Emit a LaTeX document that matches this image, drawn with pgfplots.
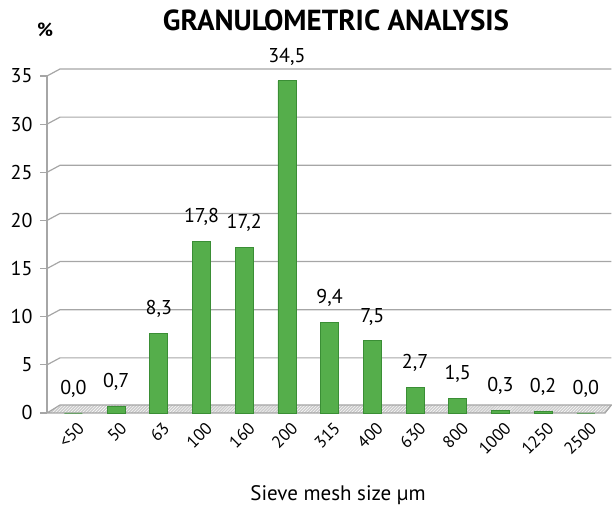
\documentclass[border=0pt]{standalone}
\usepackage{pgfplots}
\pgfplotsset{compat=1.18}
\usepackage{fontspec}
\setmainfont{PT Sans}
\usetikzlibrary{patterns}
\definecolor{barmid}{HTML}{55AE4B}
\definecolor{bardark}{HTML}{3A8E35}
\definecolor{gridgray}{HTML}{A6A6A6}
\begin{document}
\begin{tikzpicture}
\useasboundingbox (0,0) rectangle (612bp,510bp);
\begin{axis}[
  at={(47bp,97bp)}, anchor=south west,
  scale only axis,
  width=558bp, height=337bp,
  xmin=-0.62, xmax=12.45,
  ymin=0, ymax=35,
  ytick={0,5,...,35},
  xtick={0,...,12},
  xticklabels={<50,50,63,100,160,200,315,400,630,800,1000,1250,2500},
  xticklabel style={rotate=45, anchor=east, font=\fontsize{17bp}{19bp}\selectfont, yshift=-9bp, xshift=5bp},
  yticklabel style={font=\fontsize{20bp}{22bp}\selectfont, xshift=-4bp},
  /pgf/number format/assume math mode=true,
  axis x line*=bottom,
  axis y line*=left,
  x axis line style={draw=none},
  y axis line style={gridgray, line width=1.2pt, -},
  tick align=outside,
  xtick style={draw=none},
  ytick style={gridgray, line width=1.2pt},
  major tick length=7bp,
  clip=false,
  ybar, bar width=18bp,
  nodes near coords,
  every node near coord/.append style={font=\fontsize{20bp}{22bp}\selectfont, yshift=12bp, black,
    /pgf/number format/.cd, fixed, fixed zerofill, precision=1, use comma},
]
% 3D-like grid: back-wall lines with diagonal connectors
\pgfplotsinvokeforeach{5,10,...,35}{
  \draw[gridgray, line width=1.2pt] (axis cs:-0.62,#1) -- ++(13bp,7bp) -- ([yshift=7bp]axis cs:12.6,#1);
}
% floor
\fill[gray!40] (axis cs:-0.62,0) -- ([xshift=13bp,yshift=8bp]axis cs:-0.62,0) -- ([yshift=8bp]axis cs:12.6,0) -- ([yshift=0bp]axis cs:12.45,0) -- cycle;
\fill[pattern=north east lines, pattern color=white] (axis cs:-0.62,0) -- ([xshift=13bp,yshift=8bp]axis cs:-0.62,0) -- ([yshift=8bp]axis cs:12.6,0) -- ([yshift=0bp]axis cs:12.45,0) -- cycle;
\draw[gridgray, line width=1.2pt] (axis cs:-0.62,0) -- ++(13bp,8bp) -- ([yshift=8bp]axis cs:12.6,0) -- (axis cs:12.45,0) -- cycle;
\addplot[draw=bardark, line width=0.8pt, fill=barmid]
  coordinates {(0,0.0) (1,0.7) (2,8.3) (3,17.8) (4,17.2) (5,34.5) (6,9.4) (7,7.5) (8,2.7) (9,1.5) (10,0.3) (11,0.2) (12,0.0)};
\end{axis}
\node[font=\bfseries\fontsize{29bp}{31bp}\selectfont] at (336bp,490bp) {GRANULOMETRIC ANALYSIS};
\node[font=\bfseries\fontsize{19bp}{21bp}\selectfont] at (45bp,480bp) {\%};
\node[font=\fontsize{21bp}{23bp}\selectfont] at (338bp,15bp) {Sieve mesh size µm};
\end{tikzpicture}
\end{document}
